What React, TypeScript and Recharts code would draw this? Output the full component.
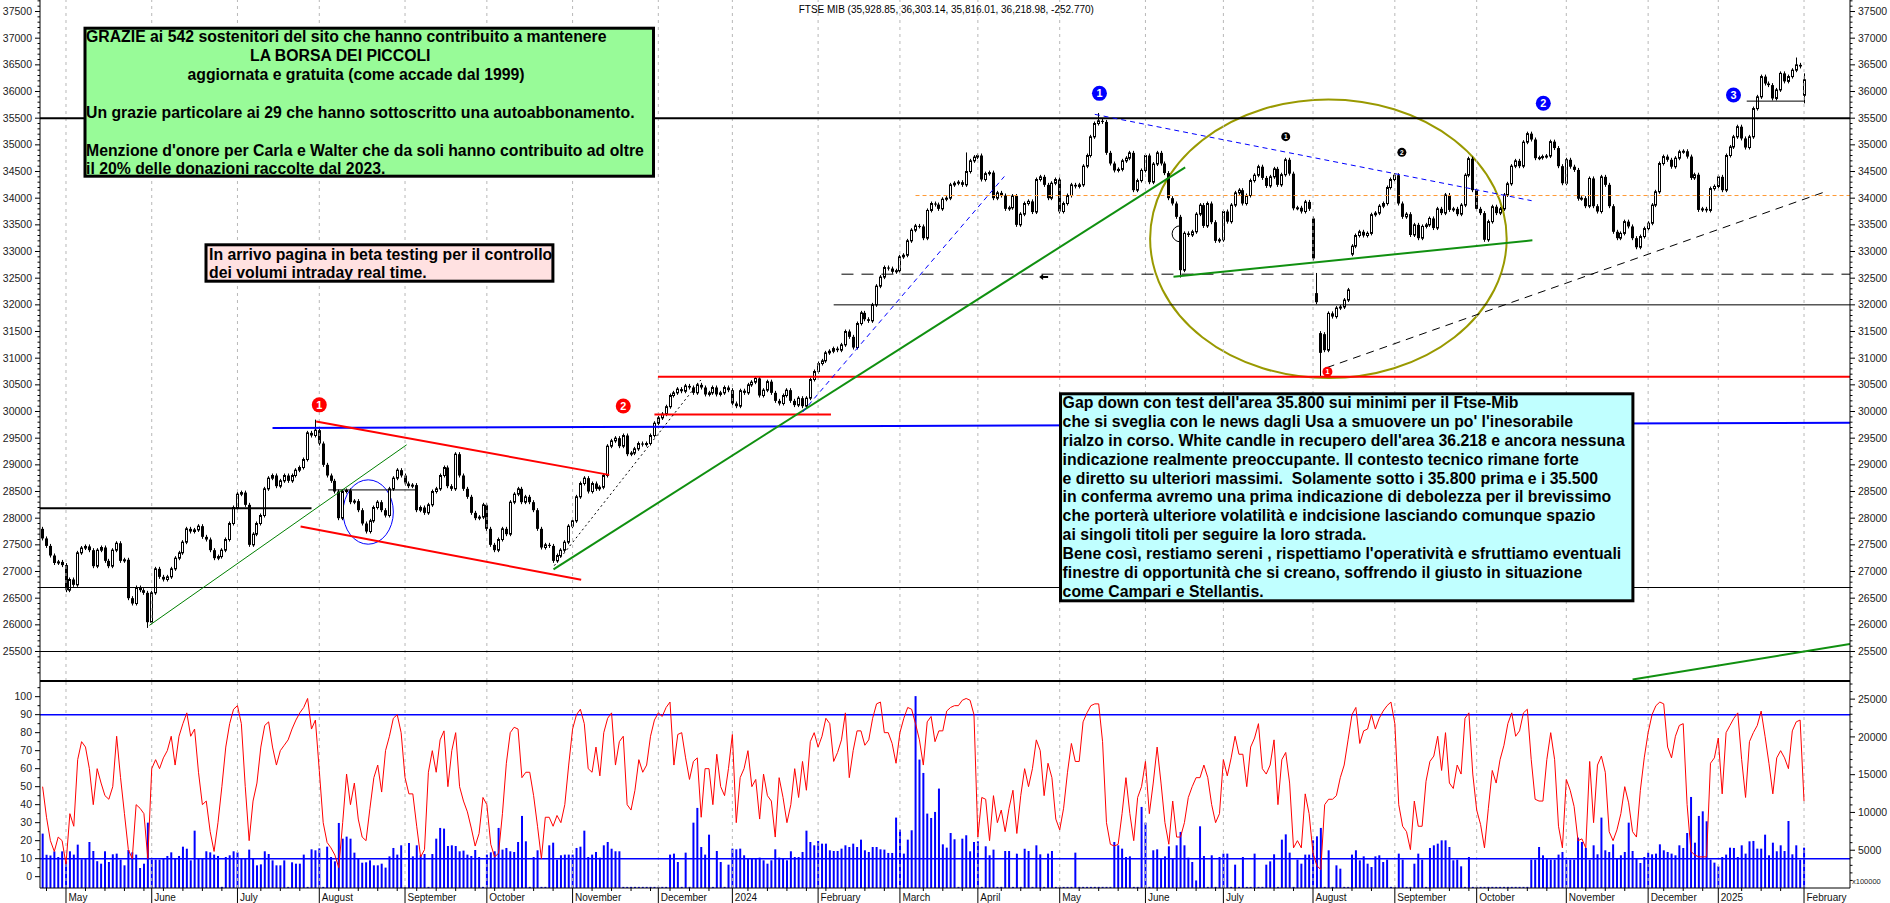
import React from "react";
import { Bar, ComposedChart, Line, ReferenceArea, ReferenceDot, ReferenceLine, XAxis, YAxis } from "recharts";

const FONT = '"Liberation Sans", Arial, sans-serif';

// FTSE MIB daily closes, one array per month
const closeApr23 = [27620, 27480, 27300, 27160, 27180, 27120];
const closeMay23 = [26650, 26850, 26750, 27350, 27440, 27470, 27400, 27100, 27400, 27450, 27200, 27100, 27400, 27530, 27200, 27220, 26500, 26400, 26700, 26650, 26600, 26050];
const closeJun23 = [26600, 27050, 26900, 26850, 26900, 27050, 27250, 27350, 27550, 27800, 27750, 27780, 27850, 27650, 27600, 27400, 27250, 27280, 27400, 27600, 27900, 28200];
const closeJul23 = [28450, 28480, 28250, 27500, 27700, 27900, 28050, 28550, 28750, 28800, 28600, 28700, 28800, 28700, 28800, 28900, 28950, 29100, 29600, 29550, 29650];
const closeAug23 = [29400, 29000, 28800, 28700, 28500, 28000, 28500, 28520, 28300, 28320, 28150, 27900, 27750, 27950, 28200, 28300, 28150, 28050, 28550, 28750, 28900, 28800];
const closeSep23 = [28650, 28600, 28620, 28150, 28200, 28100, 28250, 28500, 28550, 28800, 28950, 28600, 28550, 29200, 28800, 28550, 28400, 28100, 28000, 28020, 28250];
const closeOct23 = [27800, 27500, 27400, 27600, 27800, 27700, 28300, 28450, 28550, 28300, 28400, 28300, 28150, 27800, 27450, 27500, 27480, 27200, 27300, 27400, 27550, 27850];
const closeNov23 = [27950, 28400, 28650, 28750, 28500, 28650, 28550, 28580, 28800, 29350, 29450, 29500, 29350, 29550, 29200, 29220, 29300, 29400, 29380, 29400, 29550, 29780];
const closeDec23 = [29880, 29950, 30090, 30300, 30350, 30420, 30380, 30480, 30450, 30350, 30500, 30450, 30320, 30350, 30450, 30320, 30350, 30450, 30400];
const closeJan24 = [30150, 30100, 30390, 30350, 30500, 30550, 30620, 30300, 30400, 30560, 30350, 30200, 30150, 30300, 30400, 30200, 30120, 30250, 30100, 30250, 30600, 30750];
const closeFeb24 = [30900, 30950, 31100, 31130, 31180, 31150, 31250, 31500, 31400, 31200, 31650, 31850, 31730, 31700, 32000, 32350, 32520, 32700, 32680, 32620, 32640];
const closeMar24 = [32900, 32930, 33200, 33400, 33480, 33470, 33250, 33770, 33900, 33880, 33800, 33980, 34000, 34250, 34280, 34300, 34250, 34500, 34700, 34770];
const closeApr24 = [34800, 34350, 34460, 34480, 34000, 34100, 34050, 33800, 33820, 34040, 33500, 33700, 33900, 33940, 33740, 34350, 34400, 34250, 34000, 34280, 34350];
const closeMay24 = [33750, 33900, 34050, 34250, 34220, 34250, 34600, 34800, 35150, 35400, 35450, 35430, 34850, 34650, 34520, 34540, 34700, 34750, 34850, 34150, 34330, 34520];
const closeJun24 = [34800, 34300, 34640, 34850, 34650, 34470, 34000, 33900, 33650, 32650, 33340, 33310, 33370, 33700, 33870, 33480, 33900, 33550, 33200, 33220];
const closeJul24 = [33750, 33560, 33870, 34100, 34150, 33900, 34050, 34330, 34430, 34590, 34380, 34230, 34400, 34550, 34250, 34440, 34720, 34460, 33810, 33820, 33750, 33930, 33800];
const closeAug24 = [32870, 32050, 31100, 31150, 31840, 31780, 31940, 31960, 32090, 32280, 33100, 33300, 33370, 33300, 33340, 33690, 33720, 33850, 33900, 34200, 34350];
const closeSep24 = [34430, 33900, 33650, 33700, 33310, 33500, 33250, 33470, 33500, 33620, 33440, 33800, 33720, 34060, 33780, 33800, 33700, 33870, 34430, 34740, 34150];
const closeOct24 = [33800, 33720, 33220, 33560, 33840, 33720, 33800, 34060, 34270, 34600, 34700, 34600, 35050, 35210, 35100, 34750, 34760, 34780, 34790, 35060, 34940, 34600, 34280];
const closeNov24 = [34720, 34590, 34530, 33990, 34000, 33850, 34370, 33850, 33750, 34400, 34250, 33850, 33370, 33250, 33340, 33560, 33470, 33250, 33080, 33280, 33430];
const closeDec24 = [33530, 33870, 34120, 34650, 34780, 34720, 34590, 34750, 34870, 34880, 34780, 34380, 34440, 33780, 33800, 33770, 34180, 34220];
const closeJan25 = [34400, 34150, 34800, 34960, 35150, 35340, 35120, 34950, 35150, 35680, 35900, 36280, 36150, 36120, 35870, 36030, 36340, 36190, 36280, 36400, 36500, 36470];
const closeFeb25 = [36220];

// oscillator (0-100), same days
const oscApr23 = [50, 33, 20, 14, 22, 20];
const oscMay23 = [7, 35, 28, 65, 75, 72, 60, 40, 60, 52, 45, 43, 50, 78, 55, 35, 15, 10, 40, 38, 35, 10];
const oscJun23 = [60, 65, 60, 66, 70, 78, 62, 78, 85, 91, 78, 82, 58, 40, 42, 25, 14, 30, 50, 72, 85, 93];
const oscJul23 = [95, 85, 50, 20, 42, 52, 72, 84, 86, 72, 62, 70, 73, 76, 82, 87, 91, 94, 99, 82, 87];
const oscAug23 = [59, 30, 19, 16, 12, 5, 30, 57, 40, 52, 32, 22, 20, 38, 55, 62, 47, 70, 78, 88, 90, 80];
const oscSep23 = [55, 46, 46, 28, 11, 15, 58, 70, 58, 76, 81, 50, 70, 80, 50, 42, 36, 27, 17, 24, 44];
const oscOct23 = [40, 18, 11, 13, 35, 63, 80, 83, 82, 55, 58, 58, 45, 28, 10, 33, 33, 28, 34, 30, 40, 62];
const oscNov23 = [82, 90, 93, 85, 60, 58, 72, 56, 80, 88, 91, 62, 75, 78, 40, 37, 48, 65, 58, 62, 78, 87];
const oscDec23 = [91, 89, 94, 97, 62, 79, 80, 66, 54, 64, 66, 33, 60, 60, 40, 68, 50, 45, 60];
const oscJan24 = [79, 30, 55, 60, 70, 50, 54, 32, 57, 45, 42, 22, 55, 44, 30, 40, 60, 44, 64, 48, 75, 80];
const oscFeb24 = [72, 78, 88, 85, 64, 69, 76, 91, 55, 70, 81, 81, 73, 76, 88, 96, 97, 80, 80, 74, 63];
const oscMar24 = [80, 88, 94, 93, 85, 76, 62, 86, 89, 75, 81, 81, 92, 94, 95, 95, 98, 99, 98, 90];
const oscApr24 = [22, 44, 43, 20, 45, 30, 37, 25, 38, 48, 24, 45, 60, 50, 60, 76, 70, 45, 63, 55, 32];
const oscMay24 = [26, 38, 58, 74, 64, 64, 86, 91, 95, 96, 96, 75, 30, 18, 17, 18, 35, 55, 35, 20, 44, 50];
const oscJun24 = [64, 35, 52, 72, 52, 30, 18, 42, 22, 22, 30, 44, 50, 55, 55, 62, 55, 40, 30, 35];
const oscJul24 = [65, 56, 66, 78, 68, 68, 50, 72, 77, 85, 60, 57, 62, 76, 40, 65, 69, 52, 16, 20, 16, 46, 35];
const oscAug24 = [13, 6, 4, 40, 43, 43, 45, 55, 62, 76, 90, 94, 74, 81, 82, 90, 82, 88, 92, 95, 97];
const oscSep24 = [85, 40, 28, 25, 15, 42, 28, 28, 53, 64, 67, 78, 59, 80, 52, 49, 62, 57, 88, 91, 57];
const oscOct24 = [37, 29, 16, 38, 59, 52, 65, 73, 85, 91, 78, 81, 91, 93, 65, 43, 42, 42, 65, 80, 65, 28, 16];
const oscNov24 = [54, 48, 39, 20, 21, 16, 64, 30, 62, 67, 58, 25, 20, 26, 35, 50, 41, 25, 22, 48, 66];
const oscDec24 = [80, 90, 95, 97, 96, 72, 66, 78, 84, 85, 40, 14, 12, 11, 11, 11, 63, 66];
const oscJan25 = [77, 46, 80, 84, 88, 91, 65, 44, 75, 80, 84, 92, 78, 63, 46, 66, 70, 66, 60, 81, 86, 87];
const oscFeb25 = [42];

// volume, in units of 100000
const volApr23 = [7200, 4400, 4300, 4850, 4100, 4850];
const volMay23 = [3550, 4860, 4420, 5740, 3800, 3890, 6090, 4900, 3550, 3220, 4860, 3440, 4460, 4550, 3750, 3000, 5030, 4720, 4420, 2650, 3220, 8650];
const volJun23 = [3750, 3750, 3750, 3970, 4240, 4720, 3880, 4240, 5470, 5200, 3660, 7590, 3880, 3970, 4860, 4720, 4420, 4240, 150, 4100, 4330, 4860];
const volJul23 = [4720, 3880, 3880, 5080, 3880, 3000, 3130, 4860, 4500, 3660, 3000, 3000, 3660, 150, 3400, 3220, 3220, 4420, 150, 5120, 4990];
const volAug23 = [5250, 150, 5470, 4100, 3530, 8610, 6530, 6800, 6530, 4680, 3880, 3350, 3400, 3660, 3000, 3000, 3220, 2700, 4190, 5300, 4420, 5650];
const volSep23 = [150, 5960, 4190, 5650, 4330, 4500, 150, 4500, 6530, 7950, 7860, 5560, 5650, 5560, 4860, 4950, 4420, 4240, 5030, 4100, 150];
const volOct23 = [4420, 4720, 4860, 7950, 5080, 5300, 4860, 4770, 6090, 9540, 6180, 150, 4100, 4990, 150, 150, 5650, 6000, 3750, 4330, 4420, 4420];
const volNov23 = [4420, 5300, 5470, 7590, 4100, 4420, 4770, 4010, 5650, 6090, 5200, 4860, 4860, 150, 150, 150, 150, 150, 150, 150, 150, 150];
const volDec23 = [150, 150, 150, 4420, 4550, 3440, 150, 4680, 150, 8650, 10600, 5430, 4420, 7060, 150, 4900, 3440, 150, 3090];
const volJan24 = [5210, 5120, 5210, 4330, 3890, 3970, 3890, 4020, 3670, 3220, 3670, 5120, 4020, 3890, 3670, 4860, 4100, 4100, 4770, 7590, 6090, 5650];
const volFeb24 = [6230, 5870, 5870, 4990, 4900, 4900, 5210, 5650, 5430, 5870, 5430, 6400, 4990, 4770, 5430, 5430, 5120, 5080, 4640, 4640, 9320];
const volMar24 = [7730, 4550, 6400, 7640, 25400, 17000, 15230, 9850, 9270, 10070, 13160, 5780, 5340, 7280, 6450, 150, 6530, 6980, 4860, 6090];
const volApr24 = [6180, 150, 5520, 4330, 5080, 150, 150, 4900, 4900, 150, 4550, 150, 5210, 4900, 150, 5650, 4460, 150, 4550, 4900, 150];
const volMay24 = [150, 150, 150, 150, 4680, 150, 150, 150, 150, 150, 150, 150, 150, 150, 6090, 5650, 5210, 4100, 4190, 150, 150, 10730];
const volJun24 = [8650, 150, 4990, 5120, 3890, 4190, 5520, 3890, 5650, 7420, 5650, 4020, 3440, 1000, 8170, 4240, 150, 4330, 150, 4100];
const volJul24 = [4550, 4550, 150, 3090, 150, 4100, 150, 150, 4550, 150, 150, 3090, 3530, 4460, 150, 6400, 7100, 4680, 150, 3750, 3220, 4420, 4420];
const volAug24 = [6310, 6840, 7950, 150, 4990, 150, 3000, 2560, 150, 150, 4420, 4990, 3670, 4190, 3220, 2780, 4190, 4330, 3440, 3750, 150];
const volSep24 = [150, 4550, 3750, 150, 150, 3220, 4550, 3750, 150, 5300, 5650, 5870, 6310, 6310, 5430, 3670, 3750, 2870, 150, 4100, 150];
const volOct24 = [150, 150, 150, 150, 150, 150, 150, 150, 150, 150, 150, 150, 150, 150, 3750, 3750, 5430, 4330, 3970, 3750, 3750, 4420, 4770];
const volNov24 = [3750, 3750, 3750, 6670, 6090, 5300, 3750, 5650, 4460, 9320, 4990, 4770, 5780, 3890, 4330, 4770, 8650, 4900, 3890, 3310, 4100];
const volDec24 = [4680, 4460, 4550, 5780, 4990, 4770, 4550, 4330, 5650, 5300, 7280, 12050, 6000, 9540, 10150, 8830, 3750, 3360];
const volJan25 = [2870, 4100, 4420, 5340, 5300, 4100, 5650, 4550, 6180, 6230, 5210, 5210, 7060, 4330, 6000, 4860, 5650, 4900, 8870, 4460, 5650, 3750];
const volFeb25 = [5340];

const monthLabels = ["", "May", "June", "July", "August", "September", "October", "November", "December", "2024", "February", "March", "April", "May", "June", "July", "August", "September", "October", "November", "December", "2025", "February"];

// opens that gap away from the previous close, and wick extremes
const gapOpens: Record<number, number> = { [-6]: 27800, 320: 33620, 321: 32220, 322: 31470, 323: 31450, 330: 32950, 446: 35930 };
const wickHigh: Record<number, number> = { 64: 29810, 231: 34820, 265: 35560, 321: 32560, 444: 36600, 446: 36303 };
const wickLow: Record<number, number> = { 21: 25980, 286: 32550, 322: 30690, 446: 35816 };

const closeMonths = [closeApr23, closeMay23, closeJun23, closeJul23, closeAug23, closeSep23, closeOct23, closeNov23, closeDec23, closeJan24, closeFeb24, closeMar24, closeApr24, closeMay24, closeJun24, closeJul24, closeAug24, closeSep24, closeOct24, closeNov24, closeDec24, closeJan25, closeFeb25];
const oscMonths = [oscApr23, oscMay23, oscJun23, oscJul23, oscAug23, oscSep23, oscOct23, oscNov23, oscDec23, oscJan24, oscFeb24, oscMar24, oscApr24, oscMay24, oscJun24, oscJul24, oscAug24, oscSep24, oscOct24, oscNov24, oscDec24, oscJan25, oscFeb25];
const volMonths = [volApr23, volMay23, volJun23, volJul23, volAug23, volSep23, volOct23, volNov23, volDec23, volJan24, volFeb24, volMar24, volApr24, volMay24, volJun24, volJul24, volAug24, volSep24, volOct24, volNov24, volDec24, volJan25, volFeb25];

type Row = { i: number; o: number; c: number; lo: number; hi: number; osc: number; vol: number };

const rows: Row[] = [];
const monthStarts: number[] = [];
{
  let i = -6;
  let prev: number | null = null;
  closeMonths.forEach((m, mi) => {
    monthStarts.push(i);
    m.forEach((c, k) => {
      const o = gapOpens[i] ?? prev ?? c;
      const hi = Math.max(o, c, wickHigh[i] ?? -Infinity);
      const lo = Math.min(o, c, wickLow[i] ?? Infinity);
      rows.push({ i, o, c, lo, hi, osc: oscMonths[mi][k], vol: volMonths[mi][k] });
      prev = c;
      i++;
    });
  });
}

const X_MIN = -6.67;
const X_MAX = 457.8;
const P_MIN = 24947;
const P_MAX = 37716;
const OSC_MIN = -6.3;
const OSC_MAX = 108.7;
const VOL_MAX = 27400;

// 25000 sits under the lower panel, so the price ticks start one step above it
const priceTicks: number[] = [];
for (let v = 25100; v <= 37700; v += 100) priceTicks.push(v);
const oscTicks: number[] = [];
for (let v = 0; v <= 105; v += 5) oscTicks.push(v);
const volTicks: number[] = [];
for (let v = 1000; v <= 27000; v += 1000) volTicks.push(v);

const gridX = monthStarts.slice(1);
const monthLabelAt = new Map<number, string>();
monthStarts.forEach((s, k) => { if (k > 0) monthLabelAt.set(s, monthLabels[k]); });
const xTicks: number[] = [...gridX];
for (let s = -5; s < 450; s += 5) if (!monthLabelAt.has(s) && !gridX.some((g) => Math.abs(g - s) < 2)) xTicks.push(s);
xTicks.sort((a, b) => a - b);

function AxisTick(props: any) {
  const { x, y, payload, side, major } = props;
  const v = payload.value;
  const isMajor = major(v);
  const dir = side === "left" ? -1 : 1;
  const len = isMajor ? 5 : 2.5;
  return (
    <g>
      <line x1={x} x2={x + dir * len} y1={y} y2={y} stroke="#000" strokeWidth={1} />
      {isMajor && (
        <text x={x + dir * 8} y={y + 3.6} textAnchor={side === "left" ? "end" : "start"} fontSize={10.5} fill="#222" fontFamily={FONT}>
          {v}
        </text>
      )}
    </g>
  );
}

function MonthTick(props: any) {
  const { x, y, payload } = props;
  const label = monthLabelAt.get(payload.value);
  if (label !== undefined) {
    return (
      <g>
        <line x1={x} x2={x} y1={y} y2={y + 15} stroke="#000" />
        <text x={x + 2.5} y={y + 13} fontSize={10} fill="#111" fontFamily={FONT}>{label}</text>
      </g>
    );
  }
  return <line x1={x} x2={x} y1={y} y2={y + 3} stroke="#000" />;
}

function Candle(props: any) {
  const { x, y, width, payload } = props;
  let { height } = props;
  if (x == null || y == null || !payload) return null;
  let top = y;
  if (height < 0) { top = y + height; height = -height; }
  const { o, c, lo, hi } = payload as Row;
  const cx = Math.round(x + width / 2) + 0.5;
  const k = hi > lo ? height / (hi - lo) : 0;
  const yO = top + (hi - o) * k;
  const yC = top + (hi - c) * k;
  const bTop = Math.min(yO, yC);
  const bH = Math.max(Math.abs(yO - yC), 1);
  const up = c >= o;
  return (
    <g>
      <line x1={cx} x2={cx} y1={top - 2} y2={top + height + 2} stroke="#000" strokeWidth={1} />
      {up ? (
        <rect x={cx - 1} y={bTop} width={2} height={bH} fill="#fff" stroke="#000" strokeWidth={1} />
      ) : (
        <rect x={cx - 1.5} y={bTop} width={3} height={bH} fill="#000" />
      )}
    </g>
  );
}

const marker = (fill: string, label: string, r: number) => (p: any) => (
  <g>
    <circle cx={p.cx} cy={p.cy} r={r} fill={fill} />
    <text x={p.cx} y={p.cy + r * 0.5} textAnchor="middle" fontSize={r * 1.45} fontWeight="bold" fill="#fff" fontFamily={FONT}>{label}</text>
  </g>
);

const ellipseShape = (stroke: string, w: number) => (p: any) => (
  <ellipse cx={p.x + p.width / 2} cy={p.y + p.height / 2} rx={p.width / 2} ry={p.height / 2} fill="none" stroke={stroke} strokeWidth={w} />
);

type Seg = { a: [number, number]; b: [number, number]; color: string; w: number; dash?: string };
const segs: Seg[] = [
  { a: [197, 32000], b: [X_MAX, 32000], color: "#000", w: 1 },
  { a: [199, 32575], b: [X_MAX, 32575], color: "#000", w: 1, dash: "12 8" },
  { a: [151.9, 30650], b: [X_MAX, 30650], color: "#ff0000", w: 2 },
  { a: [151, 29945], b: [196.3, 29945], color: "#ff0000", w: 2 },
  { a: [53, 29690], b: [X_MAX, 29790], color: "#0000ff", w: 2 },
  { a: [X_MIN, 28185], b: [63, 28185], color: "#000", w: 2 },
  { a: [67.3, 28530], b: [89.6, 28530], color: "#000", w: 1 },
  { a: [431.3, 35820], b: [446, 35820], color: "#000", w: 1 },
  { a: [218, 34050], b: [X_MAX, 34050], color: "#ff9933", w: 1, dash: "4 3" },
  { a: [21.4, 25990], b: [87.4, 29375], color: "#008000", w: 1 },
  { a: [125.1, 27040], b: [287.2, 34578], color: "#109010", w: 2 },
  { a: [284.2, 32528], b: [376.3, 33209], color: "#109010", w: 2 },
  { a: [402, 24975], b: [X_MAX, 25640], color: "#109010", w: 2 },
  { a: [64.2, 29812], b: [139.4, 28812], color: "#ff0000", w: 2 },
  { a: [60.2, 27844], b: [132.2, 26844], color: "#ff0000", w: 2 },
  { a: [125.3, 27110], b: [162.9, 30591], color: "#000", w: 1, dash: "2 3" },
  { a: [189, 29988], b: [240.8, 34408], color: "#0000ff", w: 1, dash: "5 4" },
  { a: [264, 35572], b: [376.1, 33953], color: "#0000ff", w: 1, dash: "5 4" },
  { a: [323.5, 30822], b: [451.8, 34130], color: "#000", w: 1, dash: "8 6" },
];

type Mark = { x: number; y: number; fill: string; label: string; r: number };
const marks: Mark[] = [
  { x: 65, y: 30125, fill: "#ff0000", label: "1", r: 7.5 },
  { x: 143, y: 30103, fill: "#ff0000", label: "2", r: 7.5 },
  { x: 265.2, y: 35966, fill: "#0000ff", label: "1", r: 7.5 },
  { x: 379.1, y: 35779, fill: "#0000ff", label: "2", r: 7.5 },
  { x: 427.9, y: 35934, fill: "#0000ff", label: "3", r: 7.5 },
  { x: 313, y: 35153, fill: "#000", label: "1", r: 4.5 },
  { x: 342.8, y: 34860, fill: "#000", label: "2", r: 4.5 },
  { x: 323.7, y: 30746, fill: "#ff0000", label: "1", r: 5 },
];

function PriceChart() {
  return (
    <ComposedChart width={1890} height={681} data={rows} margin={{ top: 0, right: 0, bottom: 0, left: 0 }}>
      <XAxis dataKey="i" type="number" domain={[X_MIN, X_MAX]} allowDataOverflow hide />
      <YAxis yAxisId="l" orientation="left" width={40} type="number" domain={[P_MIN, P_MAX]} allowDataOverflow ticks={priceTicks} interval={0} tickSize={0} tickMargin={0} tickLine={false} axisLine={{ stroke: "#000" }} tick={(p: any) => <AxisTick {...p} side="left" major={(v: number) => v % 500 === 0} />} />
      <YAxis yAxisId="r" orientation="right" width={40} type="number" domain={[P_MIN, P_MAX]} allowDataOverflow ticks={priceTicks} interval={0} tickSize={0} tickMargin={0} tickLine={false} axisLine={{ stroke: "#000" }} tick={(p: any) => <AxisTick {...p} side="right" major={(v: number) => v % 500 === 0} />} />
      {gridX.map((s) => (
        <ReferenceLine key={"g" + s} yAxisId="l" x={s} stroke="#b8b8b8" strokeDasharray="3 4" />
      ))}
      <ReferenceLine yAxisId="l" y={35500} stroke="#000" strokeWidth={2} />
      <ReferenceLine yAxisId="l" y={26700} stroke="#000" strokeWidth={1} />
      <ReferenceLine yAxisId="l" y={25500} stroke="#000" strokeWidth={1} />
      <Bar yAxisId="l" dataKey={(d: Row) => [d.lo, d.hi]} barSize={3} shape={Candle} isAnimationActive={false} />
      {segs.map((s, k) => (
        <ReferenceLine key={"s" + k} yAxisId="l" ifOverflow="hidden" segment={[{ x: s.a[0], y: s.a[1] }, { x: s.b[0], y: s.b[1] }]} stroke={s.color} strokeWidth={s.w} strokeDasharray={s.dash} />
      ))}
      <ReferenceArea yAxisId="l" x1={71.1} x2={84} y1={27512} y2={28719} shape={ellipseShape("#0000ff", 1)} />
      <ReferenceArea yAxisId="l" x1={278.2} x2={369.7} y1={30628} y2={35852} shape={ellipseShape("#999900", 2)} />
      <ReferenceDot yAxisId="l" x={251} y={32522} r={4} shape={(p: any) => <path d={`M${p.cx - 5},${p.cy} l4,-3 v2 h5 v2 h-5 v2 z`} fill="#000" />} />
      <ReferenceDot yAxisId="l" x={285.9} y={33332} r={8} shape={(p: any) => <path d={`M${p.cx},${p.cy - 8} A8,8 0 0 0 ${p.cx},${p.cy + 8}`} fill="none" stroke="#000" strokeWidth={1} />} />
      {marks.map((m, k) => (
        <ReferenceDot key={"m" + k} yAxisId="l" x={m.x} y={m.y} r={m.r} shape={marker(m.fill, m.label, m.r)} />
      ))}
    </ComposedChart>
  );
}

function LowerChart() {
  return (
    <ComposedChart width={1890} height={225} data={rows} margin={{ top: 3, right: 0, bottom: 0, left: 0 }}>
      <XAxis dataKey="i" type="number" domain={[X_MIN, X_MAX]} allowDataOverflow ticks={xTicks} interval={0} height={15} tickSize={0} tickMargin={0} tickLine={false} axisLine={{ stroke: "#000" }} tick={(p: any) => <MonthTick {...p} />} />
      <YAxis yAxisId="o" orientation="left" width={40} type="number" domain={[OSC_MIN, OSC_MAX]} allowDataOverflow ticks={oscTicks} interval={0} tickSize={0} tickMargin={0} tickLine={false} axisLine={{ stroke: "#000" }} tick={(p: any) => <AxisTick {...p} side="left" major={(v: number) => v % 10 === 0} />} />
      <YAxis yAxisId="v" orientation="right" width={40} type="number" domain={[0, VOL_MAX]} allowDataOverflow ticks={volTicks} interval={0} tickSize={0} tickMargin={0} tickLine={false} axisLine={{ stroke: "#000" }} tick={(p: any) => <AxisTick {...p} side="right" major={(v: number) => v % 5000 === 0} />} />
      {gridX.map((s) => (
        <ReferenceLine key={"g" + s} yAxisId="o" x={s} stroke="#b8b8b8" strokeDasharray="3 4" />
      ))}
      <ReferenceLine yAxisId="o" y={OSC_MAX} stroke="#000" strokeWidth={2} />
      <Bar yAxisId="v" dataKey="vol" fill="#0000ff" barSize={2} isAnimationActive={false} />
      <ReferenceLine yAxisId="o" y={90} stroke="#0000ff" strokeWidth={1.5} />
      <ReferenceLine yAxisId="o" y={10} stroke="#0000ff" strokeWidth={1.5} />
      <Line yAxisId="o" dataKey="osc" type="linear" stroke="#ff0000" strokeWidth={1} dot={false} isAnimationActive={false} />
    </ComposedChart>
  );
}

const greenText: [string, number, number][] = [
  ["GRAZIE ai 542 sostenitori del sito che hanno contribuito a mantenere", 86, 41.5],
  ["LA BORSA DEI PICCOLI", 250, 61],
  ["aggiornata e gratuita (come accade dal 1999)", 187.5, 79.5],
  ["Un grazie particolare ai 29 che hanno sottoscritto una autoabbonamento.", 86, 117.5],
  ["Menzione d'onore per Carla e Walter che da soli hanno contribuito ad oltre", 86, 155.5],
  ["il 20% delle donazioni raccolte dal 2023.", 86, 173.5],
];
const pinkText = ["In arrivo pagina in beta testing per il controllo", "dei volumi intraday real time."];
const cyanText = [
  "Gap down con test dell'area 35.800 sui minimi per il Ftse-Mib",
  "che si sveglia con le news dagli Usa a smuovere un po' l'inesorabile",
  "rialzo in corso. White candle in recupero dell'area 36.218 e ancora nessuna",
  "indicazione realmente preoccupante. Il contesto tecnico rimane forte",
  "e diretto su ulteriori massimi.  Solamente sotto i 35.800 prima e i 35.500",
  "in conferma avremo una prima indicazione di debolezza per il brevissimo",
  "che porterà ulteriore volatilità e indcisione lasciando comunque spazio",
  "ai singoli titoli per seguire la loro strada.",
  "Bene così, restiamo sereni , rispettiamo l'operatività e sfruttiamo eventuali",
  "finestre di opportunità che si creano, soffrendo il giusto in situazione",
  "come Campari e Stellantis.",
];

function Overlay() {
  const ts = { fontFamily: FONT, fontWeight: "bold" as const, fontSize: 15.8, fill: "#000", whiteSpace: "pre" as const };
  return (
    <svg width={1890} height={903} style={{ position: "absolute", left: 0, top: 0, pointerEvents: "none" }}>
      <text x={798.7} y={12.5} fontSize={10} fontFamily={FONT} fill="#000">FTSE MIB (35,928.85, 36,303.14, 35,816.01, 36,218.98, -252.770)</text>
      <rect x={85} y={28.2} width={568.5} height={148} fill="#98fb98" stroke="#000" strokeWidth={3} />
      {greenText.map(([t, x, y], k) => (
        <text key={k} x={x} y={y} style={ts}>{t}</text>
      ))}
      <rect x={206} y={244.8} width={346.9} height={36.4} fill="#ffe1e1" stroke="#000" strokeWidth={3} />
      {pinkText.map((t, k) => (
        <text key={k} x={209} y={259.5 + k * 18.5} style={ts}>{t}</text>
      ))}
      <rect x={1060.5} y={393.8} width={572.4} height={207} fill="#c0ffff" stroke="#000" strokeWidth={3} />
      {cyanText.map((t, k) => (
        <text key={k} x={1062.6} y={408.3 + k * 18.83} style={ts}>{t}</text>
      ))}
      <text x={1852} y={884} fontSize={7.5} fontFamily={FONT} fill="#222">x100000</text>
    </svg>
  );
}

export default function App() {
  return (
    <div style={{ position: "absolute", left: 0, top: 0, width: 1890, height: 903, background: "#fff", overflow: "hidden" }}>
      <div style={{ position: "absolute", left: 0, top: 0 }}>
        <PriceChart />
      </div>
      <div style={{ position: "absolute", left: 0, top: 678 }}>
        <LowerChart />
      </div>
      <Overlay />
    </div>
  );
}
